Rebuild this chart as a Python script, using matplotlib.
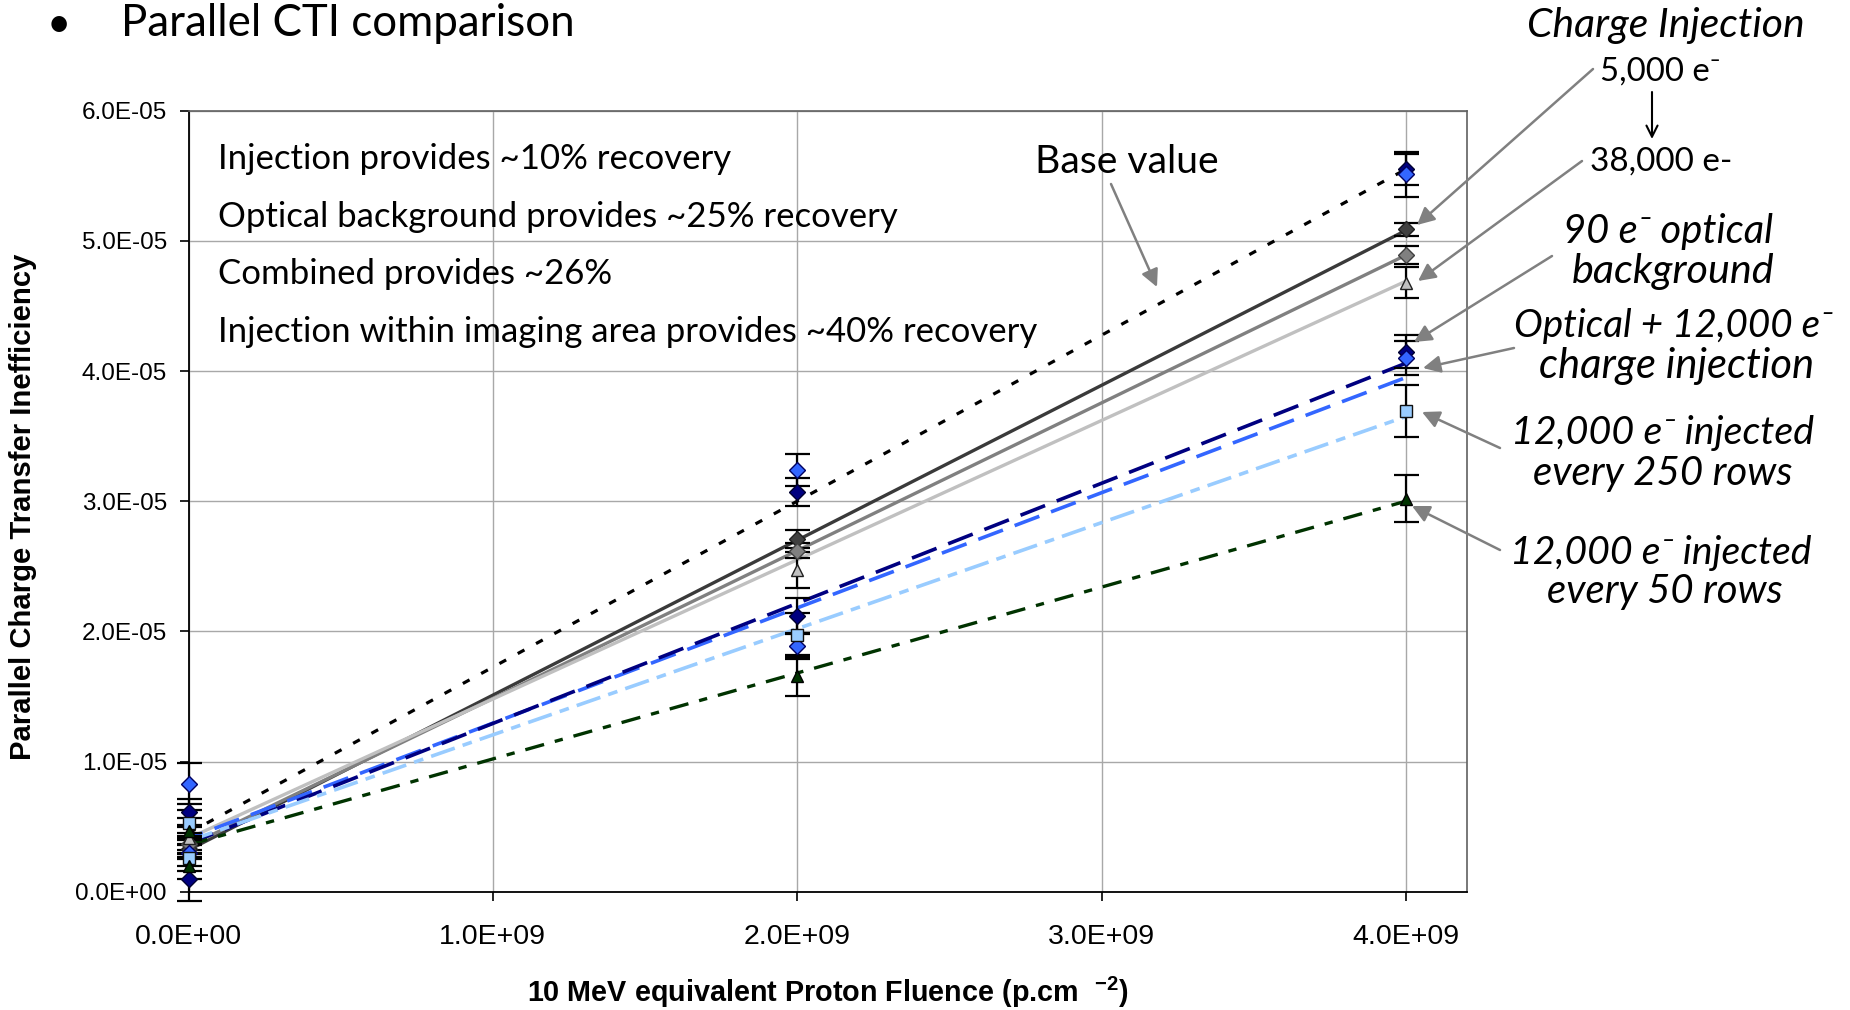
import matplotlib
matplotlib.use('Agg')
import matplotlib.pyplot as plt
from matplotlib import font_manager
from matplotlib.ticker import FuncFormatter

plt.rcParams['lines.scale_dashes'] = False
plt.rcParams['mathtext.fontset'] = 'custom'
plt.rcParams['mathtext.rm'] = 'Liberation Sans'
plt.rcParams['mathtext.bf'] = 'Liberation Sans:bold'
plt.rcParams['font.family'] = ['Liberation Sans', 'DejaVu Sans']

# ---------------- data (CTI in units of 1E-05) ----------------
UNIT = 1e-5
fluence = [0.0, 2.0e9, 4.0e9]
fluence_two_zero = [0.0, 0.0, 2.0e9, 4.0e9]

base_a = [0.83, 3.24, 5.51]
base_a_err = [0.16, 0.12, 0.17]
base_b = [0.61, 3.07, 5.55]
base_b_err = [0.10, 0.11, 0.12]
ci_5000 = [0.33, 2.71, 5.09]
ci_5000_err = [0.08, 0.07, 0.05]
ci_mid = [0.37, 2.62, 4.89]
ci_mid_err = [0.08, 0.06, 0.07]
ci_38000 = [0.41, 2.47, 4.68]
ci_38000_err = [0.09, 0.14, 0.12]
opt_90 = [0.095, 2.12, 4.15]
opt_90_err = [0.17, 0.14, 0.13]
opt_ci = [0.30, 1.89, 4.10]
opt_ci_err = [0.10, 0.10, 0.13]
rows_250 = [0.525, 0.26, 1.97, 3.69]
rows_250_err = [0.10, 0.10, 0.17, 0.20]
rows_50 = [0.47, 0.20, 1.66, 3.02]
rows_50_err = [0.10, 0.10, 0.16, 0.18]

# linear trend lines (value at 0 and at 4E9)
trend_x = [0.0, 4.0e9]
trend_base = [0.45, 5.55]
trend_ci_5000 = [0.32, 5.08]
trend_ci_mid = [0.35, 4.89]
trend_ci_38000 = [0.41, 4.69]
trend_opt_90 = [0.37, 4.06]
trend_opt_ci = [0.41, 3.95]
trend_rows_250 = [0.39, 3.65]
trend_rows_50 = [0.36, 3.00]

x_ticks = [0.0, 1.0e9, 2.0e9, 3.0e9, 4.0e9]
y_ticks = [0, 1e-5, 2e-5, 3e-5, 4e-5, 5e-5, 6e-5]

# ---------------- tick font choice ----------------
available = {f.name for f in font_manager.fontManager.ttflist}
if 'Liberation Sans Narrow' in available:
    tick_family, ysize, xsize = 'Liberation Sans Narrow', 19.5, 24.5
elif 'DejaVu Sans Condensed' in available:
    tick_family, ysize, xsize = 'DejaVu Sans Condensed', 16.5, 21
else:
    tick_family, ysize, xsize = 'Liberation Sans', 17.5, 20.5

# ---------------- figure ----------------
W, H = 1850, 1010
fig = plt.figure(figsize=(W / 100, H / 100), dpi=100)
ax = fig.add_axes([188.5 / W, 1 - 891.7 / H, (1466.7 - 188.5) / W, (891.7 - 110.7) / H])
ax.set_xlim(0, 4.2e9)
ax.set_ylim(0, 6e-5)
ax.set_xticks(x_ticks)
ax.set_yticks(y_ticks)
ax.xaxis.set_major_formatter(FuncFormatter(lambda v, p: f"{v:.1E}"))
ax.yaxis.set_major_formatter(FuncFormatter(lambda v, p: f"{v:.1E}"))
ax.grid(True, color='#A8A8A8', lw=1.0, zorder=0)
ax.set_axisbelow(True)
for s in ['top', 'right']:
    ax.spines[s].set_color('#606060')
    ax.spines[s].set_linewidth(1.2)
for s in ['left', 'bottom']:
    ax.spines[s].set_color('black')
    ax.spines[s].set_linewidth(1.3)
ax.tick_params(axis='both', direction='out', length=6.5, width=1.2, color='black',
               labelcolor='black', labelfontfamily=tick_family)
ax.tick_params(axis='y', pad=9, labelsize=ysize)
ax.tick_params(axis='x', pad=17, labelsize=xsize)

# trend lines
trend_styles = [
    (trend_base, 'black', 2.3, (0, (5.5, 9.5))),
    (trend_ci_5000, '#3A3A3A', 2.4, '-'),
    (trend_ci_mid, '#808080', 2.4, '-'),
    (trend_ci_38000, '#C0C0C0', 2.4, '-'),
    (trend_opt_ci, '#3366FF', 2.6, (8, (19, 9))),
    (trend_opt_90, '#000080', 2.6, (0, (19, 9))),
    (trend_rows_250, '#99CCFF', 2.6, (0, (18, 6, 7, 6))),
    (trend_rows_50, '#003300', 2.4, (0, (14, 8, 6, 8))),
]
for vals, col, lw, ls in trend_styles:
    ax.plot(trend_x, [v * UNIT for v in vals], color=col, lw=lw, ls=ls, zorder=2,
            solid_capstyle='butt', dash_capstyle='butt')

# data points with error bars
point_styles = [
    (fluence, base_b, base_b_err, 'D', '#000080', '#000030', 8),
    (fluence, base_a, base_a_err, 'D', '#3366FF', '#000060', 8),
    (fluence, ci_5000, ci_5000_err, 'D', '#404040', '#202020', 8),
    (fluence, ci_mid, ci_mid_err, 'D', '#808080', '#404040', 8),
    (fluence, ci_38000, ci_38000_err, '^', '#C0C0C0', '#202020', 9),
    (fluence, opt_90, opt_90_err, 'D', '#000080', '#000030', 8),
    (fluence, opt_ci, opt_ci_err, 'D', '#3366FF', '#000060', 8),
    (fluence_two_zero, rows_250, rows_250_err, 's', '#99CCFF', '#101010', 8.5),
    (fluence_two_zero, rows_50, rows_50_err, '^', '#003300', '#000000', 9),
]
for xs, ys, es, mk, fc, ec, ms in point_styles:
    eb = ax.errorbar(xs, [v * UNIT for v in ys], yerr=[e * UNIT for e in es], fmt='none',
                     ecolor='black', elinewidth=1.6, capsize=9, capthick=1.6, zorder=3)
    for child in eb.get_children():
        child.set_clip_on(False)
    ax.plot(xs, [v * UNIT for v in ys], ls='none', marker=mk, ms=ms, mfc=fc, mec=ec,
            mew=1.0, zorder=4, clip_on=False)

# ---------------- texts ----------------
fits = []

def ftext(x, y, s, width=None, height=None, ha='center', va='center', **kw):
    t = fig.text(x / W, 1 - y / H, s, ha=ha, va=va, **kw)
    if width or height:
        fits.append((t, width, height))
    return t

LATO = ['Lato', 'DejaVu Sans']
# title
ftext(59, 25, '\u2022', family=LATO, fontsize=30)
ftext(121, 23, 'Parallel CTI comparison', width=453, ha='left', family=LATO, fontsize=30)

# left notes
notes = ['Injection provides ~10% recovery',
         'Optical background provides ~25% recovery',
         'Combined provides ~26%',
         'Injection within imaging area provides ~40% recovery']
note_y = [159, 217, 274, 332]
note_objs = [ftext(218, yy, s, ha='left', family=LATO, fontsize=22) for s, yy in zip(notes, note_y)]

ftext(1127, 162, 'Base value', width=183, family=LATO, fontsize=26)

# right labels
it = dict(family=LATO, fontstyle='italic', fontsize=26)
ftext(1666, 25, 'Charge Injection', width=278, **it)
ftext(1660, 72, '5,000 e\u207b', width=120, family=LATO, fontsize=22)
ftext(1661, 162, '38,000 e-', width=142, family=LATO, fontsize=22)
right_lines = [
    (1668, 232, '90 e\u207b optical', 210),
    (1673, 272, 'background', 203),
    (1673, 326, 'Optical + 12,000 e\u207b', 320),
    (1677, 366, 'charge injection', 275),
    (1663, 433, '12,000 e\u207b injected', 303),
    (1663, 473, 'every 250 rows', 260),
    (1661, 553, '12,000 e\u207b injected', 302),
    (1665, 592, 'every 50 rows', 236),
]
for xx, yy, s, wd in right_lines:
    ftext(xx, yy, s, width=wd, **it)

# axis labels
ftext(23, 507, 'Parallel Charge Transfer Inefficiency', height=507,
      rotation=90, family='Liberation Sans', fontweight='bold', fontsize=17)
ftext(828, 992, '10 MeV equivalent Proton Fluence (p.cm  $^{\\mathbf{-2}}$)', width=602,
      family='Liberation Sans', fontweight='bold', fontsize=17)

# fit sizes
fig.canvas.draw()
r = fig.canvas.get_renderer()
for t, wd, ht in fits:
    bb = t.get_window_extent(r)
    if wd:
        t.set_fontsize(t.get_fontsize() * wd / bb.width)
    else:
        t.set_fontsize(t.get_fontsize() * ht / bb.height)
bb = note_objs[-1].get_window_extent(r)
ns = note_objs[-1].get_fontsize() * 815 / bb.width
for t in note_objs:
    t.set_fontsize(ns)

# ---------------- arrows ----------------
def arrow(x0, y0, x1, y1, color='#808080', lw=1.8, style='-|>', ms=26):
    ax.annotate('', xy=(x1, H - y1), xycoords='figure pixels',
                xytext=(x0, H - y0), textcoords='figure pixels',
                arrowprops=dict(arrowstyle=style, color=color, lw=lw,
                                mutation_scale=ms, shrinkA=0, shrinkB=0))

arrow(1593, 69, 1417, 225)
arrow(1582, 161, 1418, 281)
arrow(1552, 256, 1414, 342)
arrow(1514, 348, 1423, 368)
arrow(1500, 448, 1422, 412)
arrow(1500, 550, 1412, 506)
arrow(1111, 184, 1157, 287)
arrow(1652, 92, 1652, 139, color='black', lw=1.5, style='->', ms=20)

fig.savefig('out.png', dpi=100)
